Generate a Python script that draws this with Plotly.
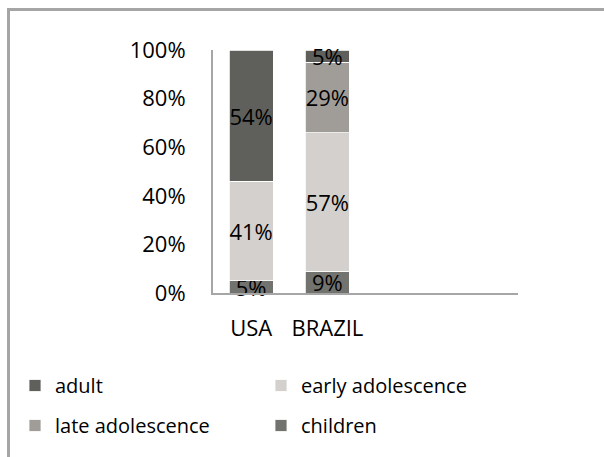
import plotly.graph_objects as go

# Share of subjects by age group at time of event, per country (percent)
countries = ["USA", "BRAZIL"]
children = [5, 9]
early_adolescence = [41, 57]
late_adolescence = [0, 29]
adult = [54, 5]
y_ticks = [0, 20, 40, 60, 80, 100]
y_tick_labels = ["0%", "20%", "40%", "60%", "80%", "100%"]

# name, values, colour, legend box
series = [
    ("children", children, "#72736e", "legend2"),
    ("early adolescence", early_adolescence, "#d3d0cd", "legend2"),
    ("late adolescence", late_adolescence, "#a09d99", "legend"),
    ("adult", adult, "#5f605b", "legend"),
]
legend_rank = {"adult": 1, "late adolescence": 2, "early adolescence": 1, "children": 2}

W, H = 604, 457
L, R, T, B = 213, 86, 50, 164
FONT = "Open Sans"
LABEL_SIZE = 22
LEGEND_SIZE = 20

fig = go.Figure()
for name, vals, color, leg in series:
    fig.add_trace(go.Bar(
        x=countries,
        y=vals,
        name=name,
        legend=leg,
        legendgroup=name,
        legendrank=legend_rank[name],
        marker=dict(color=color, line=dict(color="white", width=0.8)),
        text=[f"{v}%" if v > 0 else "" for v in vals],
        textposition="inside",
        insidetextanchor="middle",
        constraintext="none",
        textangle=0,
        textfont=dict(family=FONT, size=LABEL_SIZE, color="black"),
        cliponaxis=False,
    ))

pw = W - L - R
ph = H - T - B


def px_x(x):
    return (x - L) / pw


def px_y(y):
    return (H - B - y) / ph


legend_common = dict(
    orientation="v",
    xanchor="left",
    yanchor="top",
    y=px_y(366),
    itemwidth=30,
    tracegroupgap=11,
    font=dict(family=FONT, size=LEGEND_SIZE, color="black"),
    bgcolor="rgba(0,0,0,0)",
)

fig.update_layout(
    width=W,
    height=H,
    margin=dict(l=L, r=R, t=T, b=B, autoexpand=False),
    barmode="stack",
    bargap=0.42,
    plot_bgcolor="white",
    paper_bgcolor="white",
    font=dict(family=FONT, size=LABEL_SIZE, color="black"),
    showlegend=True,
    legend=dict(x=px_x(15), **legend_common),
    legend2=dict(x=px_x(261), **legend_common),
    xaxis=dict(
        type="category",
        range=[-0.5, 3.5],
        showline=True, linecolor="#a6a6a6", linewidth=2,
        showgrid=False, ticks="", ticklabelstandoff=15,
        tickfont=dict(family=FONT, size=LABEL_SIZE),
    ),
    yaxis=dict(
        range=[0, 100],
        tickmode="array",
        tickvals=y_ticks,
        ticktext=y_tick_labels,
        showline=True, linecolor="#a6a6a6", linewidth=2,
        showgrid=False, zeroline=False, ticks="", ticklabelstandoff=21,
        tickfont=dict(family=FONT, size=LABEL_SIZE),
    ),
)

# Chart frame (top and left edges visible, the rest runs off the canvas)
fig.add_shape(
    type="rect", xref="paper", yref="paper",
    x0=px_x(8.5), x1=px_x(640), y0=px_y(490), y1=px_y(9.5),
    line=dict(color="#a5a5a5", width=3), fillcolor="rgba(0,0,0,0)",
    layer="below",
)

fig.write_html("out.html")
